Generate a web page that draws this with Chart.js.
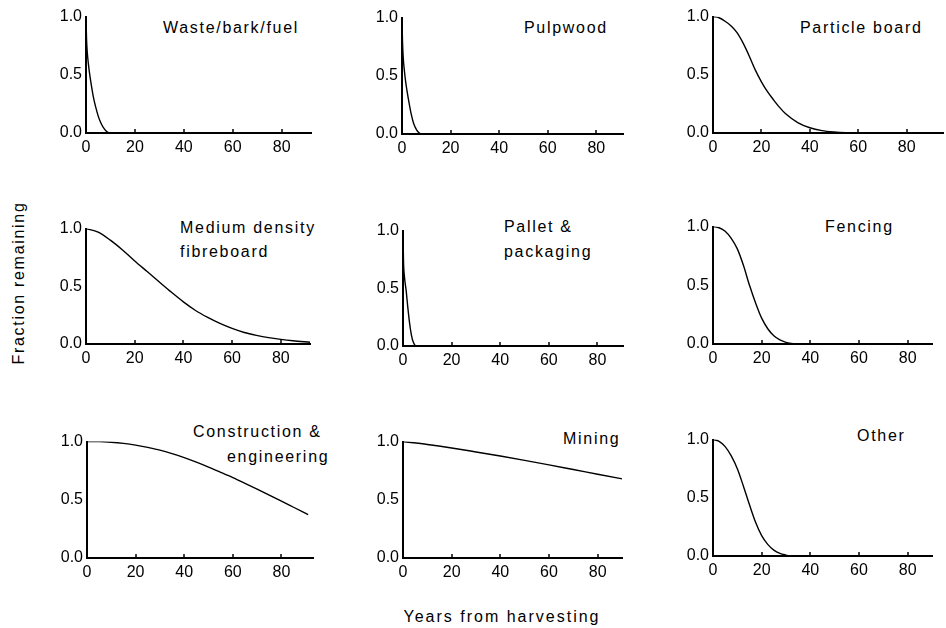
<!DOCTYPE html>
<html>
<head>
<meta charset="utf-8">
<script src="https://cdn.jsdelivr.net/npm/chart.js@4.4.0/dist/chart.umd.min.js"></script>
<style>
  body { margin: 0; background: #fff; width: 946px; height: 628px; position: relative; overflow: hidden;
         font-family: "Liberation Sans", Arial, sans-serif; color: #000; }
  canvas { position: absolute; }
  .lbl { position: absolute; font-size: 16px; letter-spacing: 1.7px; line-height: 20px; white-space: nowrap; }
</style>
</head>
<body>
<div class="lbl" style="left:163px;top:18px">Waste/bark/fuel</div>
<div class="lbl" style="left:524px;top:18px">Pulpwood</div>
<div class="lbl" style="left:800px;top:18px">Particle board</div>
<div class="lbl" style="left:180px;top:218px">Medium density</div>
<div class="lbl" style="left:180px;top:242px">fibreboard</div>
<div class="lbl" style="left:504px;top:217px">Pallet &amp;</div>
<div class="lbl" style="left:504px;top:242px">packaging</div>
<div class="lbl" style="left:825px;top:217px">Fencing</div>
<div class="lbl" style="left:193px;top:422px">Construction &amp;</div>
<div class="lbl" style="left:227px;top:447px">engineering</div>
<div class="lbl" style="left:563px;top:429px">Mining</div>
<div class="lbl" style="left:857px;top:426px">Other</div>
<div class="lbl" style="left:19px;top:283px;transform:translate(-50%,-50%) rotate(-90deg)">Fraction remaining</div>
<div class="lbl" style="left:502px;top:617px;letter-spacing:2px;transform:translate(-50%,-50%)">Years from harvesting</div>

<script>
// tick values shared by all panels
const xTicks = [0, 20, 40, 60, 80];
const yTicks = [0, 0.5, 1.0];

// fraction remaining vs years
const wasteYears = [0, 0.2, 0.5, 1, 1.6, 2.2, 3, 4, 5, 6, 7, 8, 9, 10, 92];
const wasteFraction = [1, 0.82, 0.7, 0.59, 0.49, 0.41, 0.31, 0.22, 0.145, 0.09, 0.05, 0.022, 0.006, 0, 0];

const pulpYears = [0, 0.2, 0.5, 1, 1.5, 2, 2.8, 3.8, 4.8, 6, 7, 8, 91];
const pulpFraction = [1, 0.8, 0.66, 0.54, 0.45, 0.38, 0.28, 0.17, 0.09, 0.035, 0.01, 0, 0];

const particleYears = [0, 2.5, 5, 7.5, 10, 12.5, 15, 17.5, 20, 22.5, 25, 27.5, 30, 35, 40, 45, 50, 55, 60, 95];
const particleFraction = [1, 0.99, 0.96, 0.92, 0.86, 0.77, 0.66, 0.54, 0.44, 0.355, 0.285, 0.22, 0.165, 0.09, 0.045, 0.02, 0.008, 0.002, 0, 0];

const mdfYears = [0, 5, 10, 15, 20, 25, 30, 35, 40, 45, 50, 55, 60, 65, 70, 75, 80, 85, 92];
const mdfFraction = [1, 0.97, 0.9, 0.815, 0.72, 0.63, 0.54, 0.45, 0.365, 0.29, 0.23, 0.178, 0.135, 0.1, 0.075, 0.055, 0.04, 0.028, 0.015];

const palletYears = [0, 0.2, 0.6, 1.3, 2, 2.7, 3.5, 4.3, 5.5, 90.5];
const palletFraction = [1, 0.74, 0.6, 0.48, 0.33, 0.2, 0.09, 0.03, 0, 0];

const fencingYears = [0, 2.5, 5, 7.5, 10, 12.5, 15, 17.5, 20, 22.5, 25, 27.5, 30, 33, 35, 90];
const fencingFraction = [1, 0.99, 0.96, 0.9, 0.81, 0.67, 0.5, 0.35, 0.22, 0.13, 0.07, 0.035, 0.014, 0.002, 0, 0];

const constructionYears = [0, 5, 10, 15, 20, 25, 30, 35, 40, 45, 50, 55, 60, 65, 70, 75, 80, 85, 91];
const constructionFraction = [1, 1, 0.995, 0.985, 0.97, 0.95, 0.927, 0.897, 0.862, 0.823, 0.781, 0.736, 0.69, 0.641, 0.591, 0.54, 0.489, 0.436, 0.372];

const miningYears = [0, 10, 20, 30, 40, 50, 60, 70, 80, 90];
const miningFraction = [1, 0.975, 0.945, 0.911, 0.876, 0.839, 0.8, 0.76, 0.72, 0.68];

const otherYears = [0, 2.5, 5, 7.5, 10, 12.5, 15, 17.5, 20, 22.5, 25, 27.5, 30, 32, 90];
const otherFraction = [1, 0.985, 0.94, 0.86, 0.75, 0.6, 0.44, 0.29, 0.175, 0.1, 0.05, 0.022, 0.008, 0, 0];

// plot area of each panel on the page
const panels = [
  { xs: wasteYears, ys: wasteFraction, left: 86, top: 13, w: 225, h: 120, xmax: 92 },
  { xs: pulpYears, ys: pulpFraction, left: 402, top: 14, w: 221, h: 120, xmax: 91 },
  { xs: particleYears, ys: particleFraction, left: 713, top: 13, w: 230, h: 120, xmax: 95 },
  { xs: mdfYears, ys: mdfFraction, left: 86, top: 225, w: 224, h: 119, xmax: 92 },
  { xs: palletYears, ys: palletFraction, left: 403, top: 227, w: 220, h: 119, xmax: 90.5 },
  { xs: fencingYears, ys: fencingFraction, left: 713, top: 223, w: 219, h: 121, xmax: 90 },
  { xs: constructionYears, ys: constructionFraction, left: 87, top: 438, w: 226, h: 120, xmax: 93 },
  { xs: miningYears, ys: miningFraction, left: 403, top: 438, w: 219, h: 120, xmax: 90 },
  { xs: otherYears, ys: otherFraction, left: 713, top: 436, w: 219, h: 120, xmax: 90 }
];

Chart.defaults.font.family = '"Liberation Sans", Arial, sans-serif';
Chart.defaults.font.size = 16;
Chart.defaults.color = '#000';

// small inward tick marks on the x axis
const tickMarks = {
  id: 'tickMarks',
  afterDraw(chart) {
    const { ctx, chartArea, scales: { x } } = chart;
    ctx.save();
    ctx.strokeStyle = '#000';
    ctx.lineWidth = 1.5;
    xTicks.forEach(v => {
      if (v === 0) return;
      const px = Math.round(x.getPixelForValue(v));
      ctx.beginPath();
      ctx.moveTo(px, chartArea.bottom);
      ctx.lineTo(px, chartArea.bottom - 4);
      ctx.stroke();
    });
    ctx.restore();
  }
};

const padTop = 10, padRight = 4, yW = 44, xH = 26;

panels.forEach(p => {
  const canvas = document.createElement('canvas');
  canvas.width = yW + p.w + padRight;
  canvas.height = padTop + p.h + xH;
  canvas.style.left = (p.left - yW) + 'px';
  canvas.style.top = (p.top - padTop) + 'px';
  document.body.appendChild(canvas);

  new Chart(canvas, {
    type: 'line',
    data: {
      datasets: [{
        data: p.xs.map((x, i) => ({ x: x, y: p.ys[i] })),
        borderColor: '#000',
        borderWidth: 1.4,
        pointRadius: 0,
        cubicInterpolationMode: 'monotone',
        fill: false
      }]
    },
    options: {
      responsive: false,
      animation: false,
      events: [],
      layout: { padding: { top: padTop, right: padRight, left: 0, bottom: 0 } },
      plugins: { legend: { display: false }, tooltip: { enabled: false } },
      scales: {
        x: {
          type: 'linear',
          min: 0,
          max: p.xmax,
          afterBuildTicks: s => { s.ticks = xTicks.map(v => ({ value: v })); },
          afterFit: s => { s.height = xH; },
          grid: { display: false, drawTicks: false },
          border: { display: true, color: '#000', width: 2 },
          ticks: { padding: 5, maxRotation: 0, autoSkip: false }
        },
        y: {
          type: 'linear',
          min: 0,
          max: 1,
          afterBuildTicks: s => { s.ticks = yTicks.map(v => ({ value: v })); },
          afterFit: s => { s.width = yW; },
          grid: { display: false, drawTicks: false },
          border: { display: true, color: '#000', width: 2 },
          ticks: { padding: 4, callback: v => Number(v).toFixed(1) }
        }
      }
    },
    plugins: [tickMarks]
  });
});
</script>
</body>
</html>
